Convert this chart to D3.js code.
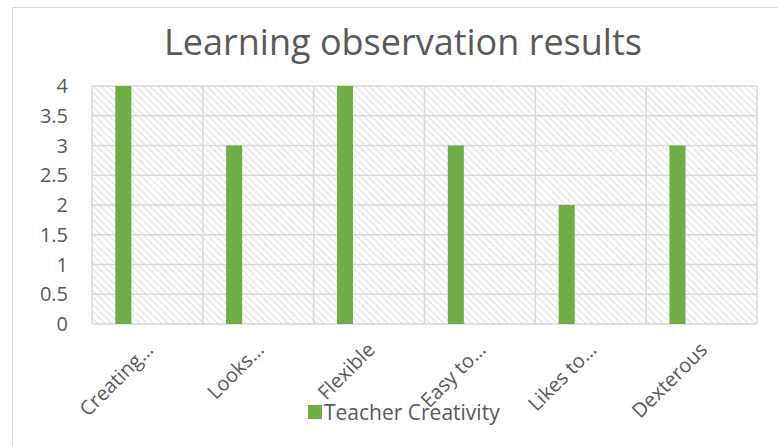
<!DOCTYPE html>
<html>
<head>
<meta charset="utf-8">
<script src="https://cdn.jsdelivr.net/npm/d3@7"></script>
<style>
	body { margin: 0; background: #ffffff; }
	svg { display: block; }
	text { font-family: "Open Sans", sans-serif; fill: #595959; }
</style>
</head>
<body>
<svg id="chart" width="778" height="446"></svg>
<script>
var categories = ["Creating…", "Looks…", "Flexible", "Easy to…", "Likes to…", "Dexterous"];
var teacherCreativity = [4, 3, 4, 3, 2, 3];
var yTicks = [0, 0.5, 1, 1.5, 2, 2.5, 3, 3.5, 4];
// excel reserves room for 4 series in each group, only the first one has data
var seriesSlots = ["Teacher Creativity", "s2", "s3", "s4"];

var svg = d3.select("#chart");
var margin = { left: 92, right: 21, top: 86, bottom: 122 };
var width = 778 - margin.left - margin.right;
var height = 446 - margin.top - margin.bottom;

// chart frame
svg.append("rect")
	.attr("x", 12.5).attr("y", 7.5)
	.attr("width", 800).attr("height", 500)
	.attr("fill", "#ffffff")
	.attr("stroke", "#d9d9d9");

// hatch pattern of the plot area
var defs = svg.append("defs");
var pat = defs.append("pattern")
	.attr("id", "hatch")
	.attr("patternUnits", "userSpaceOnUse")
	.attr("width", 5).attr("height", 5)
	.attr("patternTransform", "rotate(-45)");
pat.append("rect").attr("width", 5).attr("height", 5).attr("fill", "#ffffff");
pat.append("line")
	.attr("x1", 1).attr("y1", 0).attr("x2", 1).attr("y2", 5)
	.attr("stroke", "#d6d6d6").attr("stroke-width", 1.5)
	.attr("stroke-dasharray", "1.6 0.9");

svg.append("text")
	.attr("x", 403).attr("y", 55)
	.attr("text-anchor", "middle")
	.attr("font-size", "36px")
	.text("Learning observation results");

var g = svg.append("g").attr("transform", "translate(" + margin.left + "," + margin.top + ")");

var x = d3.scaleBand().domain(categories).range([0, width]);
var xs = d3.scaleBand().domain(seriesSlots).range([0, x.bandwidth()]).paddingOuter(1.45).paddingInner(0);
var y = d3.scaleLinear().domain([0, 4]).range([height, 0]);

g.append("rect")
	.attr("width", width).attr("height", height)
	.attr("fill", "url(#hatch)");

// gridlines
g.selectAll(".hgrid").data(yTicks).enter().append("line")
	.attr("x1", 0).attr("x2", width)
	.attr("y1", function(d) { return y(d); })
	.attr("y2", function(d) { return y(d); })
	.attr("stroke", "#d9d9d9").attr("stroke-width", 1.5);

g.selectAll(".vgrid").data(d3.range(categories.length + 1)).enter().append("line")
	.attr("x1", function(i) { return i * x.step(); })
	.attr("x2", function(i) { return i * x.step(); })
	.attr("y1", 0).attr("y2", height)
	.attr("stroke", "#d9d9d9").attr("stroke-width", 1.5);

// bars
g.selectAll(".bar").data(teacherCreativity).enter().append("rect")
	.attr("x", function(d, i) { return x(categories[i]) + xs(seriesSlots[0]); })
	.attr("width", xs.bandwidth())
	.attr("y", function(d) { return y(d); })
	.attr("height", function(d) { return height - y(d); })
	.attr("fill", "#70ad47");

// y axis labels
g.selectAll(".ylab").data(yTicks).enter().append("text")
	.attr("x", -24)
	.attr("y", function(d) { return y(d); })
	.attr("dy", "0.36em")
	.attr("text-anchor", "end")
	.attr("font-size", "20px")
	.text(function(d) { return d; });

// x axis labels
g.selectAll(".xlab").data(categories).enter().append("text")
	.attr("transform", function(d) {
		return "translate(" + (x(d) + x.bandwidth() / 2 + 7) + "," + (height + 27) + ") rotate(-45)";
	})
	.attr("text-anchor", "end")
	.attr("font-size", "20px")
	.text(function(d) { return d; });

// legend
var legend = svg.append("g").attr("transform", "translate(308,405)");
legend.append("rect").attr("width", 14).attr("height", 14).attr("fill", "#70ad47");
legend.append("text")
	.attr("x", 16).attr("y", 15)
	.attr("font-size", "21px")
	.text("Teacher Creativity");
</script>
</body>
</html>
